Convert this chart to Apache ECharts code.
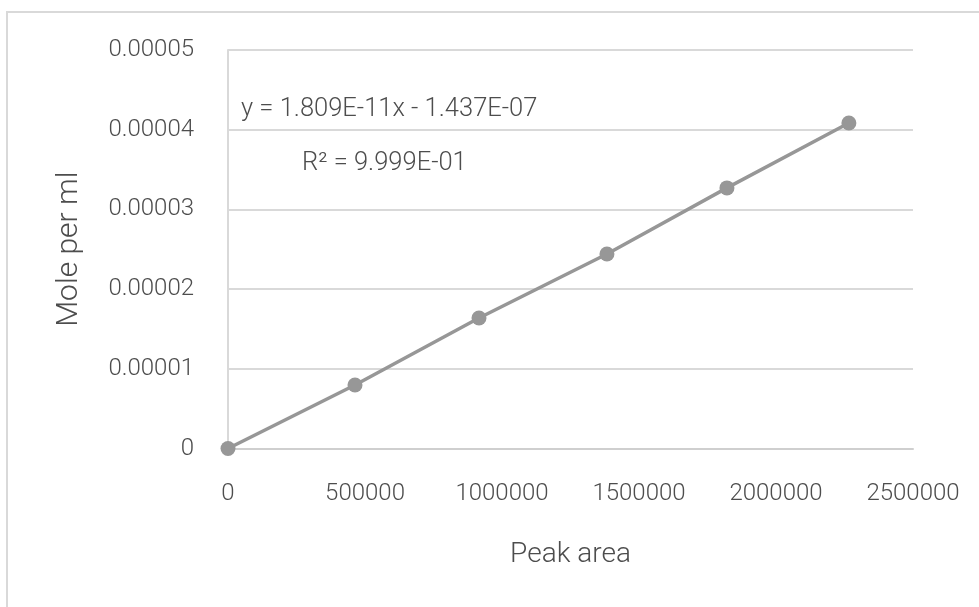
<!DOCTYPE html>
<html>
<head>
<meta charset="utf-8">
<script src="https://cdn.jsdelivr.net/npm/echarts@6/dist/echarts.min.js"></script>
<style>
  html, body { margin: 0; padding: 0; background: #ffffff; }
  #chart { width: 979px; height: 607px; }
</style>
</head>
<body>
<div id="chart"></div>
<script>
// Calibration: peak area vs. concentration
const peakArea = [0, 463500, 916000, 1383000, 1821000, 2266000];
const molePerMl = [0, 0.00000797, 0.00001637, 0.0000244, 0.0000327, 0.00004084];

const xTickLabels = ['0', '500000', '1000000', '1500000', '2000000', '2500000'];
const yTickLabels = ['0', '0.00001', '0.00002', '0.00003', '0.00004', '0.00005'];

const equationText = 'y = 1.809E-11x - 1.437E-07';
const rSquaredText = 'R² = 9.999E-01';

const xTitle = 'Peak area';
const yTitle = 'Mole per ml';

const FONT = 'Roboto';
const WEIGHT = 300;
const TEXT_COLOR = '#4d4d4d';
const GRID_COLOR = '#d9d9d9';
const SERIES_COLOR = '#979797';

const chart = echarts.init(document.getElementById('chart'), null, { renderer: 'canvas' });

const points = peakArea.map((x, i) => [x, molePerMl[i]]);

chart.setOption({
  animation: false,
  backgroundColor: '#ffffff',
  grid: { left: 228, right: 66, top: 50, bottom: 158.5, containLabel: false },
  xAxis: {
    type: 'value',
    min: 0,
    max: 2500000,
    interval: 500000,
    name: xTitle,
    nameLocation: 'middle',
    nameGap: 92,
    nameTextStyle: { fontFamily: FONT, fontWeight: WEIGHT, fontSize: 28, color: TEXT_COLOR },
    axisLine: { show: true, lineStyle: { color: '#cfcfcf', width: 2 } },
    axisTick: { show: false },
    splitLine: { show: false },
    axisLabel: {
      margin: 33,
      fontFamily: FONT,
      fontWeight: WEIGHT,
      fontSize: 24,
      color: TEXT_COLOR,
      formatter: (v) => xTickLabels[Math.round(v / 500000)]
    }
  },
  yAxis: {
    type: 'value',
    min: 0,
    max: 0.00005,
    interval: 0.00001,
    name: yTitle,
    nameLocation: 'middle',
    nameGap: 144,
    nameRotate: 90,
    nameTextStyle: { fontFamily: FONT, fontWeight: WEIGHT, fontSize: 30, color: TEXT_COLOR },
    axisLine: { show: true, lineStyle: { color: GRID_COLOR, width: 2 } },
    axisTick: { show: false },
    splitLine: { show: true, lineStyle: { color: GRID_COLOR, width: 2 } },
    axisLabel: {
      margin: 34,
      fontFamily: FONT,
      fontWeight: WEIGHT,
      fontSize: 24,
      color: TEXT_COLOR,
      formatter: (v) => yTickLabels[Math.round(v / 0.00001)]
    }
  },
  series: [{
    type: 'line',
    data: points,
    smooth: false,
    symbol: 'circle',
    symbolSize: 15,
    itemStyle: { color: SERIES_COLOR },
    lineStyle: { color: SERIES_COLOR, width: 3.5 },
    z: 3
  }],
  graphic: [
    {
      type: 'rect',
      shape: { x: 7, y: 12, width: 1000, height: 700 },
      style: { fill: 'none', stroke: '#d9d9d9', lineWidth: 2 },
      silent: true,
      z: -1
    },
    {
      type: 'text',
      left: 241,
      top: 97,
      style: { text: equationText, font: WEIGHT + ' 25.5px ' + FONT, fill: TEXT_COLOR }
    },
    {
      type: 'text',
      left: 302,
      top: 151,
      style: { text: rSquaredText, font: WEIGHT + ' 25.5px ' + FONT, fill: TEXT_COLOR }
    }
  ]
});
</script>
</body>
</html>
